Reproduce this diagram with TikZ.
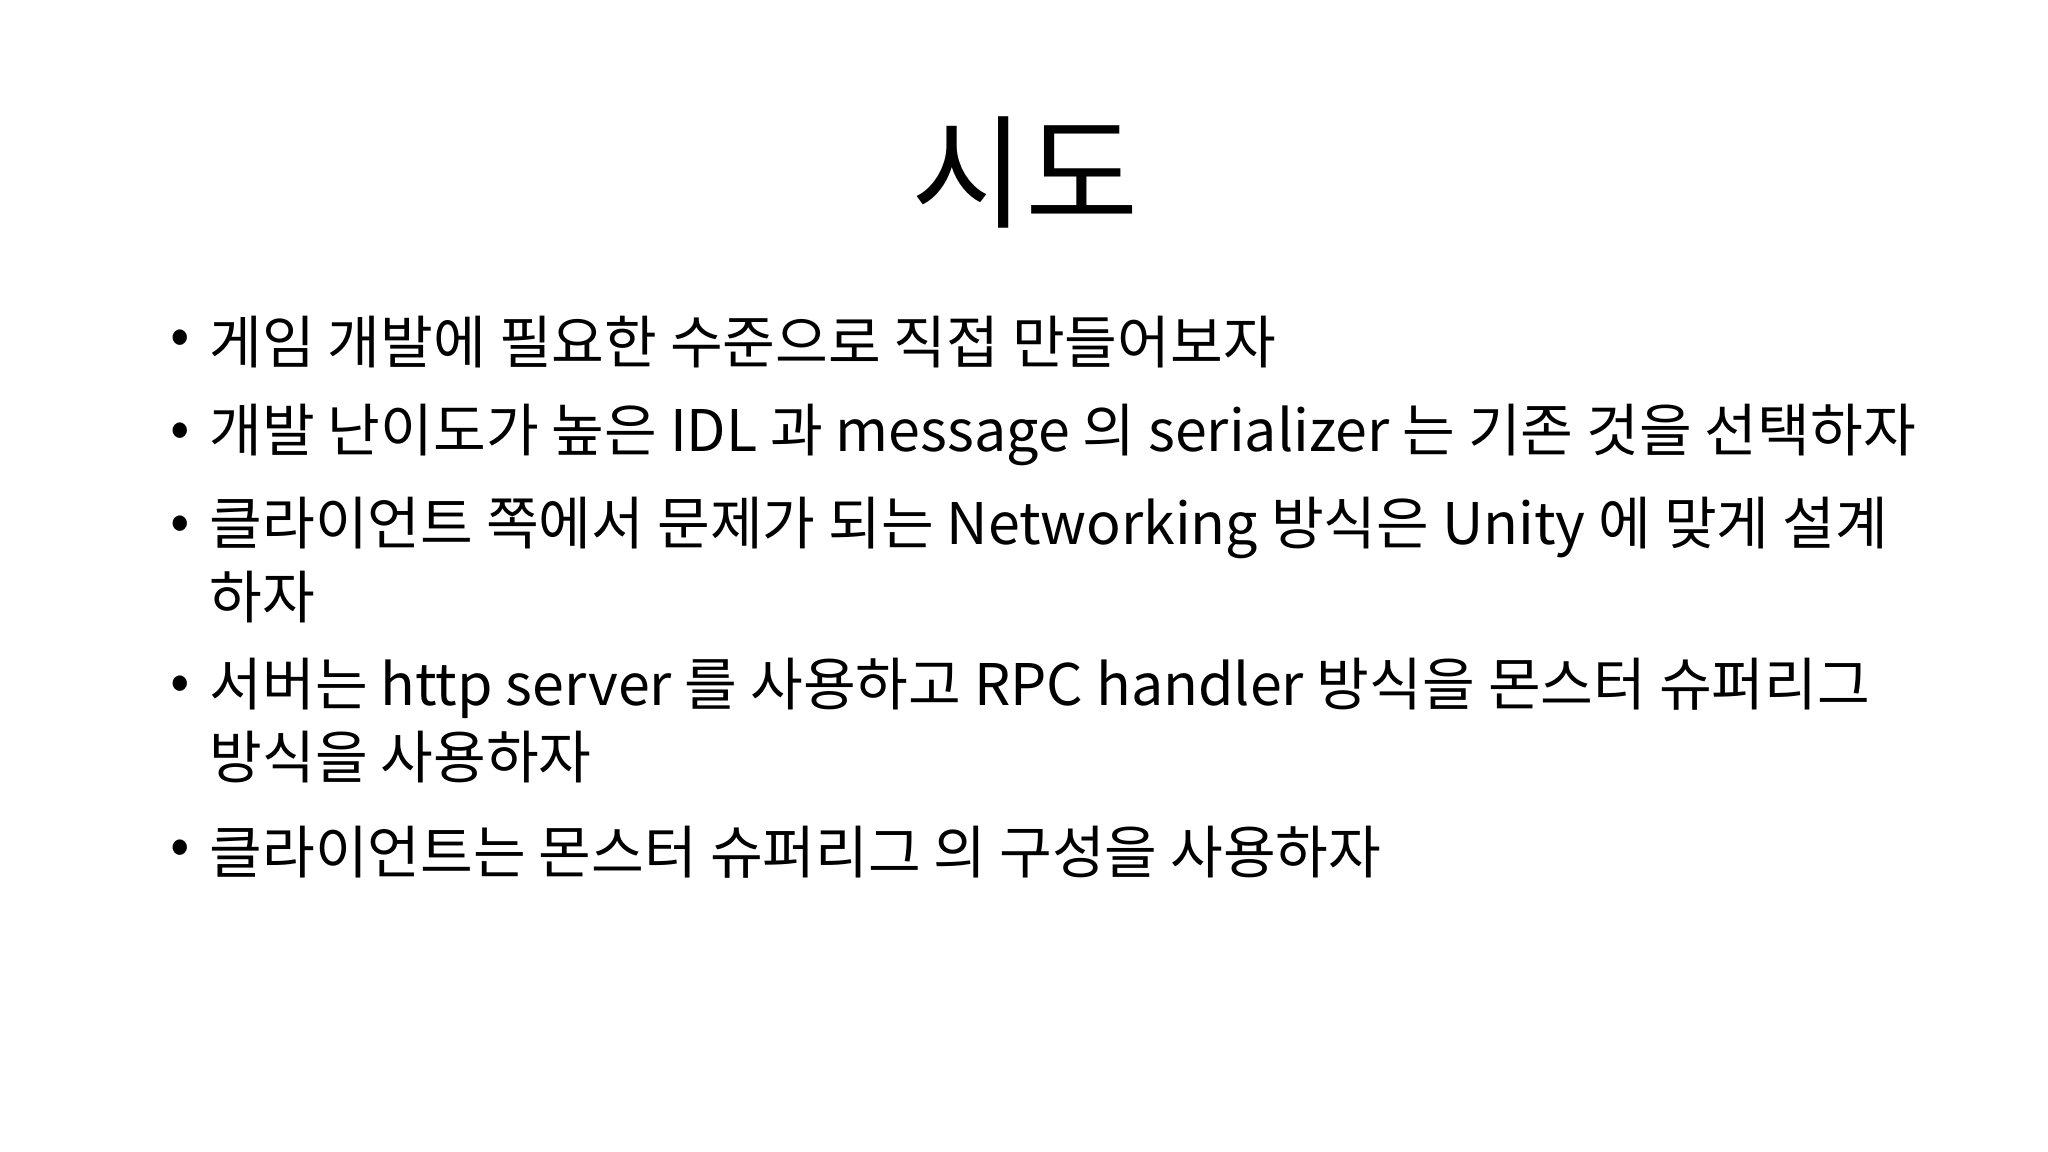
\documentclass[tikz,border=0pt]{standalone}
\usepackage{fontspec}
\setmainfont{Noto Sans CJK KR}
\begin{document}
\begin{tikzpicture}[x=0.01cm,y=-0.01cm,
  line/.style={anchor=west,inner sep=0pt,font=\fontsize{16.3}{20}\selectfont},
  dot/.style={anchor=center,inner sep=0pt,font=\fontsize{16.3}{20}\selectfont}]
\useasboundingbox (0,0) rectangle (2048,1152);
\node[inner sep=0pt,font=\fontsize{35}{40}\selectfont] (title) at (1025,172) {시도};
\foreach \y/\t [count=\i] in {342/게임 개발에 필요한 수준으로 직접 만들어보자,
  435/개발 난이도가 높은 IDL 과 message 의 serializer 는 기존 것을 선택하자,
  528/클라이언트 쪽에서 문제가 되는 Networking 방식은 Unity 에 맞게 설계,
  688/서버는 http server 를 사용하고 RPC handler 방식을 몬스터 슈퍼리그,
  852/클라이언트는 몬스터 슈퍼리그 의 구성을 사용하자}{
  \node[dot] (d\i) at (180,\y) {•};
  \node[line] (l\i) at (209,\y) {\t};
}
\node[line] (l3b) at (209,597) {하자};
\node[line] (l4b) at (209,757) {방식을 사용하자};
\end{tikzpicture}
\end{document}
